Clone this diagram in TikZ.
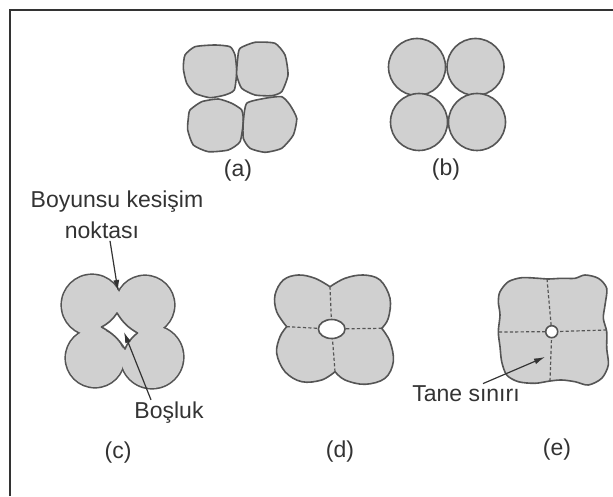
\documentclass[tikz,border=0pt]{standalone}
\usepackage{fontspec}
\setmainfont{Liberation Sans}
\usepackage{tikz}
\usetikzlibrary{arrows.meta}

\definecolor{grainfill}{HTML}{D0D0D0}
\definecolor{grainline}{HTML}{555555}
\definecolor{inkgray}{HTML}{333333}

\tikzset{
    grain/.style={draw=grainline, fill=grainfill, line width=0.8pt, line join=round},
    gbound/.style={grainline, line width=0.6pt, dash pattern=on 1.6pt off 1.1pt},
    lbl/.style={text=inkgray, font=\fontsize{11.5}{13}\selectfont, inner sep=1pt},
    pointer/.style={inkgray, line width=0.6pt, -{Latex[length=5.5pt,width=3pt]}},
}

\begin{document}
\begin{tikzpicture}[x=0.5pt, y=-0.5pt]
    \useasboundingbox (0,0) rectangle (613,496);
    % frame (only top and left edges inside the page)
    \draw[inkgray, line width=1pt] (10,496) -- (10,10) -- (613,10);

    % (a) loose particles, slightly faceted
    \draw[grain] plot[smooth cycle, tension=0.35] coordinates {(185,55) (195,46.7) (215,45) (230,46.7) (235,55) (236.7,71.7)
            (234.3,90) (225,95) (210,97.7) (195,93.3) (186.7,83.3) (183.3,68.3)};
    \draw[grain] plot[smooth cycle, tension=0.35] coordinates {(240,48.3) (255,42.3) (275,43.3) (285,55) (288,75) (281.7,91.7)
            (271.7,95.7) (255,95) (241.7,88.3) (236.7,75) (237.7,58.3)};
    \draw[grain] plot[smooth cycle, tension=0.35] coordinates {(190,110) (201.7,101.7) (218.3,99) (231.7,103.3) (241.7,110) (243.3,121.7)
            (240,141.7) (228.3,150) (208.3,151.7) (193.3,145) (187.7,130) (188.3,118.3)};
    \draw[grain] plot[smooth cycle, tension=0.35] coordinates {(246.7,103.3) (265,98.3) (281.7,96.7) (290,105) (296.7,118.3) (293.3,135)
            (281.7,148.3) (265,152.3) (250,148.3) (243.3,138.3) (243.3,121.7)};
    \node[lbl] (capA) at (238,171) {(a)};

    % (b) round particles in point contact
    \foreach \cx/\cy in {417/67, 475.5/67, 419/122, 477/122}
        \draw[grain] (\cx,\cy) circle (28.5);
    \node[lbl] (capB) at (446,170) {(b)};

    % (c) necks start to grow - outline first, then fill over it
    \foreach \cx/\cy/\r in {92/305/30, 145/305/29, 95/358/29, 152/357/31}
        \draw[grainline, line width=1.6pt] (\cx,\cy) circle (\r);
    \foreach \cx/\cy/\r in {92/305/30, 145/305/29, 95/358/29, 152/357/31}
        \fill[grainfill] (\cx,\cy) circle (\r);
    % open pore between the four particles
    \draw[grainline, line width=0.8pt, fill=white, line join=round]
        (101.5,327) to[bend right=14] (117,313) to[bend right=14] (137.5,333)
        to[bend right=14] (125,349) to[bend right=14] cycle;
    \coordinate (neck) at (118,291);
    \coordinate (pore) at (124,332);
    \node[lbl] (neckTop) at (117,202) {Boyunsu kesişim};
    \node[lbl] (neckBot) at (102,230) {noktası};
    \node[lbl] (pore lbl) at (169,413) {Boşluk};
    \draw[pointer] ([xshift=4pt]neckBot.south) -- (neck);
    \draw[pointer] ([xshift=-9pt]pore lbl.north) -- (pore);
    \node[lbl] (capC) at (118,453) {(c)};

    % (d) grain boundaries form, pore rounds off
    \draw[grain]
        plot[smooth, tension=0.6] coordinates {(330,286.7) (345,278.3) (363.3,275) (380,280) (390,298.3) (388.3,318.3) (381.7,328.3)}
        -- plot[smooth, tension=0.6] coordinates {(381.7,328.3) (390,341.7) (393.3,361.7) (385,378.3) (365,384.3) (345,380) (335,371.7)}
        -- plot[smooth, tension=0.6] coordinates {(335,371.7) (321.7,380) (301.7,381.7) (285,371.7) (276.7,353.3) (280,336.7) (286.7,326.7)}
        -- plot[smooth, tension=0.6] coordinates {(286.7,326.7) (276.7,311.7) (275,295) (283.3,280) (298.3,275) (315,278.3) (330,286.7)}
        -- cycle;
    \coordinate (dN) at (330,286.7);
    \coordinate (dE) at (381.7,328.3);
    \coordinate (dS) at (335,371.7);
    \coordinate (dW) at (286.7,326.7);
    \coordinate (dHole) at (331.7,329);
    \foreach \p in {dN,dE,dS,dW}
        \draw[gbound] (\p) -- (dHole);
    \draw[grainline, line width=0.8pt, fill=white] (dHole) ellipse [x radius=13.3, y radius=9.5];
    \node[lbl] (capD) at (340,452) {(d)};

    % (e) dense body, small isolated pore
    \draw[grain] plot[smooth cycle, tension=0.5] coordinates {
        (498.3,301.7) (500,291.7) (508.3,281.7) (521.7,277.7) (538.3,278.3) (548.3,279) (561.7,278.3)
        (575,278.3) (585,275) (598.3,278.3) (606.7,288.3) (605,305) (603.3,318.3) (606.7,331.7)
        (606.7,348.3) (608.3,365) (601.7,378.3) (588.3,385) (575,381.7) (561.7,380) (550,381)
        (535,383.3) (518.3,381.7) (506.7,375) (501.7,361.7) (500,346.7) (498.3,331.7) (500,315)};
    \coordinate (eN) at (547,279);
    \coordinate (eE) at (606.5,330);
    \coordinate (eS) at (550,381);
    \coordinate (eW) at (499,332);
    \coordinate (eHole) at (551.7,331.7);
    \foreach \p in {eN,eE,eS,eW}
        \draw[gbound] (\p) -- (eHole);
    \draw[grainline, line width=0.8pt, fill=white] (eHole) circle (6);
    \coordinate (gbTip) at (545,357);
    \node[lbl] (gb lbl) at (466,394) {Tane sınırı};
    \draw[pointer] ([xshift=8.5pt]gb lbl.north) -- (gbTip);
    \node[lbl] (capE) at (557,450) {(e)};
\end{tikzpicture}
\end{document}
